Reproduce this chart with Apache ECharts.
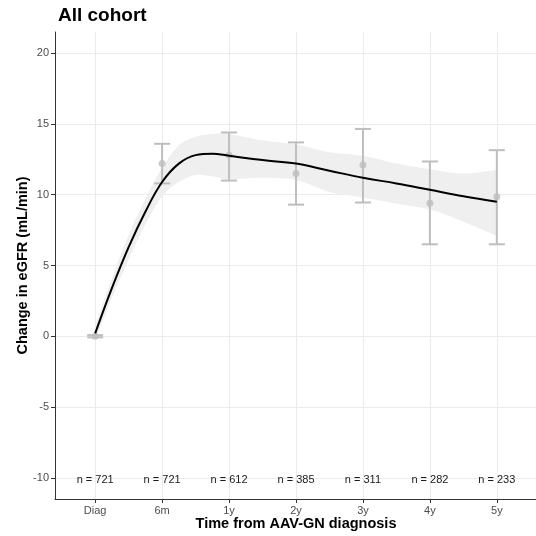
<!DOCTYPE html>
<html><head><meta charset="utf-8">
<script src="https://cdn.jsdelivr.net/npm/echarts@6/dist/echarts.min.js"></script>
<style>html,body{margin:0;padding:0;background:#fff}#c{width:536px;height:536px}</style>
</head><body><div id="c"></div>
<script>
// ---- data ----
const categories = ['Diag', '6m', '1y', '2y', '3y', '4y', '5y'];
const meanValues = [0, 12.2, 12.8, 11.5, 12.1, 9.4, 9.85];
const ciUpper    = [0.08, 13.6, 14.4, 13.7, 14.65, 12.35, 13.15];
const ciLower    = [-0.08, 10.8, 11.0, 9.3, 9.45, 6.5, 6.5];
const nCounts    = [721, 721, 612, 385, 311, 282, 233];

const smoothX     = [0, 0.25, 0.5, 0.75, 1, 1.25, 1.5, 1.75, 2, 2.5, 3, 3.5, 4, 4.5, 5, 5.5, 6];
const smoothFit   = [0.2, 3.4, 6.3, 8.8, 10.9, 12.2, 12.8, 12.9, 12.75, 12.45, 12.2, 11.7, 11.2, 10.8, 10.35, 9.9, 9.5];
const smoothUpper = [0.7, 4.1, 7.15, 9.7, 11.9, 13.5, 14.1, 14.3, 14.3, 13.85, 13.55, 13.0, 12.75, 12.2, 11.8, 11.5, 11.75];
const smoothLower = [-0.3, 2.7, 5.45, 7.9, 9.9, 10.9, 11.4, 11.3, 11.1, 11.2, 11.05, 10.2, 9.8, 9.37, 8.95, 8.1, 7.1];

const yTicks = [-10, -5, 0, 5, 10, 15, 20];
const xTicks = [0, 1, 2, 3, 4, 5, 6];
const nLabelY = -10;

// ---- build ----
const FONT = '"Liberation Sans", Arial, Helvetica, sans-serif';
const chart = echarts.init(document.getElementById('c'), null, {renderer: 'canvas'});

const fitData = smoothX.map((x, i) => [x, smoothFit[i]]);
const bandData = smoothX.map((x, i) => [x, smoothLower[i], smoothUpper[i]]);
const errData = categories.map((c, i) => [i, ciLower[i], ciUpper[i]]);
const ptData = categories.map((c, i) => [i, meanValues[i]]);
const nData = categories.map((c, i) => [i, nLabelY, nCounts[i]]);

const axisCol = '#333333';
const gridCol = '#EBEBEB';
const barCol = '#BEBEBE';

// Catmull-Rom -> cubic bezier path through pixel points
function splinePath(pts, start) {
  let d = start ? 'M' + pts[0][0] + ' ' + pts[0][1] : 'L' + pts[0][0] + ' ' + pts[0][1];
  for (let i = 0; i < pts.length - 1; i++) {
    const p0 = pts[Math.max(0, i - 1)], p1 = pts[i], p2 = pts[i + 1], p3 = pts[Math.min(pts.length - 1, i + 2)];
    const c1x = p1[0] + (p2[0] - p0[0]) / 6, c1y = p1[1] + (p2[1] - p0[1]) / 6;
    const c2x = p2[0] - (p3[0] - p1[0]) / 6, c2y = p2[1] - (p3[1] - p1[1]) / 6;
    d += ' C' + c1x + ' ' + c1y + ' ' + c2x + ' ' + c2y + ' ' + p2[0] + ' ' + p2[1];
  }
  return d;
}

chart.setOption({
  animation: false,
  backgroundColor: '#ffffff',
  title: {
    text: 'All cohort', left: 53, top: 1,
    textStyle: {fontFamily: FONT, fontSize: 19, fontWeight: 'bold', color: '#000'}
  },
  grid: {left: 55, top: 32, width: 482, height: 467, containLabel: false, outerBoundsMode: 'none'},
  xAxis: {
    type: 'value', min: -0.6, max: 6.6,
    name: 'Time from AAV-GN diagnosis', nameLocation: 'middle', nameGap: 17, nameMoveOverlap: false,
    nameTextStyle: {fontFamily: FONT, fontSize: 14.5, fontWeight: 'bold', color: '#000'},
    axisLine: {show: true, onZero: false, lineStyle: {color: axisCol, width: 1}},
    axisTick: {show: true, length: 4, customValues: xTicks, lineStyle: {color: axisCol}},
    axisLabel: {customValues: xTicks, margin: 6, fontFamily: FONT, fontSize: 11, color: '#4D4D4D',
      formatter: v => categories[Math.round(v)] || ''},
    splitLine: {show: true, lineStyle: {color: gridCol, width: 1}}
  },
  yAxis: {
    type: 'value', min: -11.5, max: 21.5,
    name: 'Change in eGFR (mL/min)', nameLocation: 'middle', nameGap: 25, nameRotate: 90, nameMoveOverlap: false,
    nameTextStyle: {fontFamily: FONT, fontSize: 14.5, fontWeight: 'bold', color: '#000'},
    axisLine: {show: true, onZero: false, lineStyle: {color: axisCol, width: 1}},
    axisTick: {show: true, length: 4, customValues: yTicks, lineStyle: {color: axisCol}},
    axisLabel: {customValues: yTicks, margin: 6, fontFamily: FONT, fontSize: 11, color: '#4D4D4D'},
    splitLine: {show: true, lineStyle: {color: gridCol, width: 1}}
  },
  series: [
    {
      type: 'custom', data: bandData, encode: {x: 0, y: [1, 2]}, z: 1, silent: true,
      renderItem: function (params, api) {
        if (params.dataIndex !== 0) return null;
        const up = bandData.map(d => api.coord([d[0], d[2]]));
        const lo = bandData.map(d => api.coord([d[0], d[1]])).reverse();
        const d = splinePath(up, true) + ' ' + splinePath(lo, false) + ' Z';
        return {type: 'path', shape: {pathData: d}, style: {fill: '#EFEFEF', stroke: null}};
      }
    },
    {
      type: 'custom', data: errData, encode: {x: 0, y: [1, 2]}, z: 3,
      renderItem: function (params, api) {
        const x = api.value(0);
        const lo = api.coord([x, api.value(1)]);
        const hi = api.coord([x, api.value(2)]);
        const hw = 8;
        const st = {stroke: barCol, lineWidth: 2};
        return {type: 'group', children: [
          {type: 'line', shape: {x1: lo[0], y1: lo[1], x2: hi[0], y2: hi[1]}, style: st},
          {type: 'line', shape: {x1: lo[0] - hw, y1: lo[1], x2: lo[0] + hw, y2: lo[1]}, style: st},
          {type: 'line', shape: {x1: hi[0] - hw, y1: hi[1], x2: hi[0] + hw, y2: hi[1]}, style: st}
        ]};
      }
    },
    {
      type: 'scatter', data: ptData, symbol: 'circle', symbolSize: 7, z: 4,
      itemStyle: {color: barCol}
    },
    {
      type: 'line', data: fitData, smooth: 0.4, symbol: 'none', z: 5,
      lineStyle: {color: '#000', width: 2}
    },
    {
      type: 'custom', data: nData, encode: {x: 0, y: 1}, z: 6,
      renderItem: function (params, api) {
        const p = api.coord([api.value(0), api.value(1)]);
        return {type: 'text', x: p[0], y: p[1] + 2,
          style: {text: 'n = ' + api.value(2), align: 'center', verticalAlign: 'middle',
            fontFamily: FONT, fontSize: 11, fill: '#1A1A1A'}};
      }
    }
  ]
});
</script>
</body></html>
